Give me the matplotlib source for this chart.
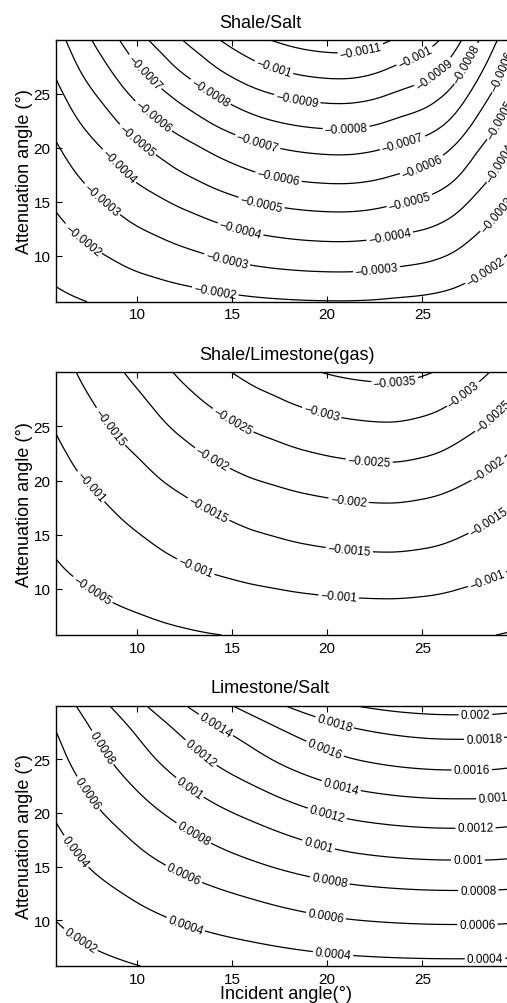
import numpy as np
import matplotlib
matplotlib.use("Agg")
import matplotlib.pyplot as plt
import matplotlib.tri as mtri

plt.rcParams['font.family'] = ['Liberation Sans', 'DejaVu Sans']
plt.rcParams['contour.negative_linestyle'] = 'solid'

# ---------------- data ----------------
# incident angle knots (deg) and attenuation angle knots (deg)
incident = [5.73, 7, 8, 9, 10, 11, 12, 13, 14, 15, 16, 17, 18, 19, 20,
            21, 22, 23, 24, 25, 26, 27, 28, 29, 30]
attenuation = [5.73, 8, 10, 12, 14, 16, 18, 20, 22, 24, 26, 28, 30]

# Shale/Salt: relative variation along incident angle, value along attenuation angle
shale_salt_inc = [0.40, 0.485, 0.545, 0.605, 0.665, 0.715, 0.765, 0.81, 0.855,
                  0.895, 0.93, 0.957, 0.977, 0.991, 0.999, 1.0, 0.99, 0.968,
                  0.94, 0.912, 0.865, 0.79, 0.695, 0.605, 0.50]
shale_salt_att = [-0.000197, -0.000282, -0.000354, -0.000425, -0.000498,
                  -0.000574, -0.000650, -0.000726, -0.000812, -0.000896,
                  -0.000983, -0.001067, -0.00115]
shale_salt_levels = [-0.0011, -0.001, -0.0009, -0.0008, -0.0007, -0.0006,
                     -0.0005, -0.0004, -0.0003, -0.0002, -0.0001]

# Shale/Limestone(gas)
shale_lime_inc = [0.35, 0.425, 0.48, 0.535, 0.585, 0.64, 0.695, 0.745, 0.79,
                  0.828, 0.865, 0.895, 0.925, 0.95, 0.97, 0.985, 0.995, 1.0,
                  0.995, 0.978, 0.95, 0.905, 0.855, 0.80, 0.74]
shale_lime_att = [-0.00062, -0.00088, -0.001105, -0.00134, -0.00157, -0.00179,
                  -0.00201, -0.00228, -0.00254, -0.00281, -0.00308, -0.00335,
                  -0.00363]
shale_lime_levels = [-0.0035, -0.003, -0.0025, -0.002, -0.0015, -0.001, -0.0005]

# Limestone/Salt
lime_salt_inc = [0.323, 0.395, 0.45, 0.50, 0.55, 0.598, 0.644, 0.688, 0.728,
                 0.765, 0.80, 0.835, 0.868, 0.898, 0.925, 0.948, 0.965, 0.978,
                 0.988, 0.995, 0.999, 1.0, 1.0, 0.996, 0.985]
lime_salt_att = [0.000358, 0.0005, 0.000625, 0.00075, 0.000885, 0.001027,
                 0.00116, 0.001304, 0.00145, 0.0016, 0.00174, 0.00189, 0.00209]
lime_salt_levels = [0.0002, 0.0004, 0.0006, 0.0008, 0.001, 0.0012, 0.0014,
                    0.0016, 0.0018, 0.002]

titles = ["Shale/Salt", "Shale/Limestone(gas)", "Limestone/Salt"]
tick_values = [10, 15, 20, 25]
y_label = "Attenuation angle (\u00b0)"
x_label = "Incident angle(\u00b0)"

# ---------------- layout ----------------
W, H = 507, 1004
fig = plt.figure(figsize=(W / 100, H / 100), dpi=100)

left_px, right_px = 56.0, 517.3
panel_px = [(40.7, 302.7), (373.3, 636.0), (706.7, 967.0)]
title_px = [(260.0, 27.5), (286.7, 360.5), (270.5, 693.2)]

label_pos = [
    [(21.75, 29.1), (17.15, 27.2), (24.7, 28.1), (18.4, 24.3), (25.6, 26.9),
     (13.8, 25.0), (21.0, 21.7), (27.3, 27.8), (10.4, 27.0), (16.3, 20.3),
     (24.0, 20.2), (10.8, 22.8), (17.4, 17.0), (25.0, 18.3), (29.2, 27.1),
     (9.96, 20.6), (16.5, 14.6), (24.35, 14.9), (29.2, 22.5), (9.0, 18.2),
     (15.4, 12.2), (23.3, 11.7), (29.2, 18.5), (8.1, 15.1), (14.7, 9.4),
     (22.6, 8.6), (29.0, 13.7), (7.1, 11.4), (14.1, 6.6), (28.3, 8.6)],
    [(23.56, 29.1), (19.7, 26.2), (27.2, 27.9), (14.96, 25.3), (22.2, 21.65),
     (28.6, 26.2), (13.9, 21.9), (21.1, 17.75), (28.5, 21.0), (8.47, 24.8),
     (13.65, 17.0), (21.15, 13.4), (28.55, 16.1), (7.47, 19.3), (13.07, 12.0),
     (20.6, 9.1), (28.4, 10.9), (7.6, 9.75)],
    [(27.8, 29.0), (28.25, 26.9), (20.3, 27.9), (27.6, 24.0), (19.8, 25.6),
     (28.9, 21.3), (20.7, 22.3), (14.0, 27.8), (27.8, 18.6), (19.96, 19.7),
     (13.25, 25.4), (27.4, 15.6), (19.5, 16.8), (12.7, 22.2), (27.95, 12.75),
     (20.1, 13.4), (12.9, 17.9), (8.0, 25.9), (27.9, 9.6), (19.9, 10.1),
     (12.4, 14.1), (7.3, 21.7), (28.3, 6.4), (20.3, 6.8), (12.5, 9.35),
     (6.7, 16.3), (7.0, 8.1)],
]

datasets = [(shale_salt_inc, shale_salt_att, shale_salt_levels),
            (shale_lime_inc, shale_lime_att, shale_lime_levels),
            (lime_salt_inc, lime_salt_att, lime_salt_levels)]


def fmt(v):
    return ("%g" % round(v, 6)).replace("-", "\u2212")


# triangulation of the knot grid
xx, yy = np.meshgrid(incident, attenuation)
nx, ny = len(incident), len(attenuation)
idx = np.arange(nx * ny).reshape(ny, nx)
tris = []
for j in range(ny - 1):
    for i in range(nx - 1):
        a, b, c, d = idx[j, i], idx[j, i + 1], idx[j + 1, i], idx[j + 1, i + 1]
        tris.append([a, b, d])
        tris.append([a, d, c])
triang = mtri.Triangulation(xx.ravel(), yy.ravel(), np.array(tris))
refiner = mtri.UniformTriRefiner(triang)

for k, ((inc, att, levels), (top, bot)) in enumerate(zip(datasets, panel_px)):
    ax = fig.add_axes([left_px / W, 1 - bot / H, (right_px - left_px) / W,
                       (bot - top) / H])
    ax.set_xlim(5.73, 30)
    ax.set_ylim(5.73, 30)
    z = np.outer(att, inc)
    tri_r, z_r = refiner.refine_field(z.ravel(), subdiv=3)
    cs = ax.tricontour(tri_r, z_r, levels=levels, colors='k', linewidths=0.9,
                       linestyles='solid')
    ax.clabel(cs, manual=label_pos[k], fmt=fmt, fontsize=8.5, inline=True,
              inline_spacing=2)
    ax.set_xticks(tick_values)
    ax.set_yticks(tick_values)
    ax.tick_params(direction='in', top=True, right=True, length=4.5, width=0.8,
                   labelsize=11, pad=4, colors='k')
    for s in ax.spines.values():
        s.set_linewidth(1.0)
    tx, ty = title_px[k]
    fig.text(tx / W, 1 - ty / H, titles[k], ha='center', va='baseline',
             fontsize=13)
    fig.text(24.5 / W, 1 - ((top + bot) / 2) / H, y_label, rotation=90,
             ha='center', va='center', fontsize=13)

fig.text(286.5 / W, 1 - 999.5 / H, x_label, ha='center', va='baseline',
         fontsize=13)

fig.savefig("out.png", dpi=100)
